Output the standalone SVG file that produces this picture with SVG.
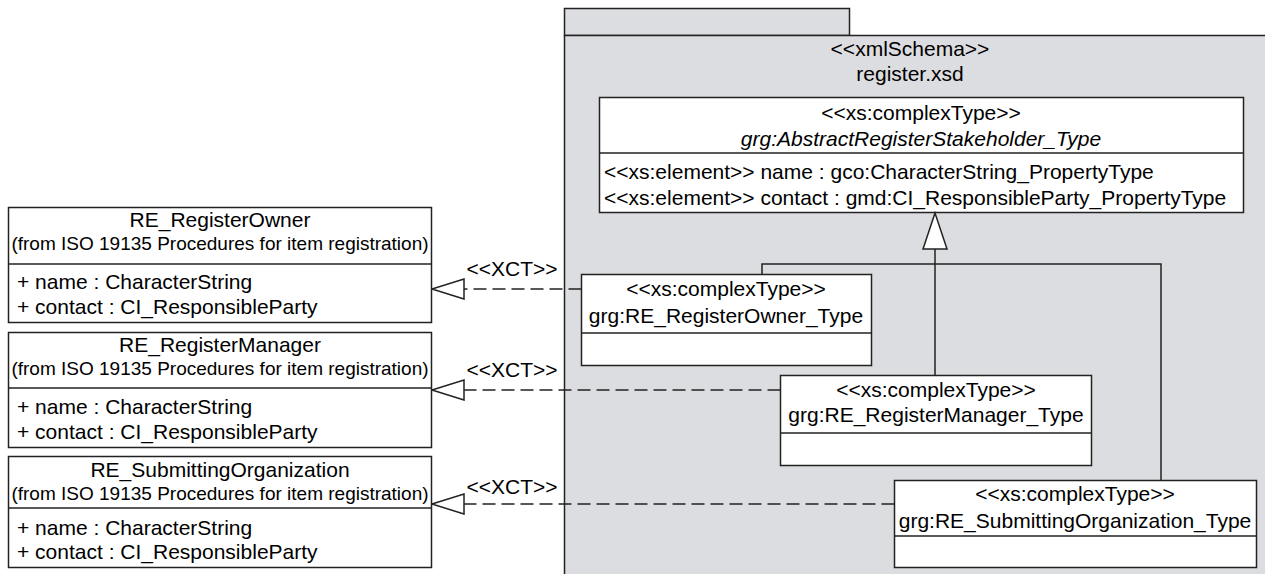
<svg xmlns="http://www.w3.org/2000/svg" width="1265" height="574" viewBox="0 0 1265 574">
<style>
text{font-family:"Liberation Sans",Arial,sans-serif;font-size:21px;fill:#000}
.c{text-anchor:middle}
.sm{font-size:19px}
.it{font-style:italic}
.box{fill:#fff;stroke:#222;stroke-width:1.5}
.ln{stroke:#222;stroke-width:1.5;fill:none}
.pkg{fill:#dcdde0;stroke:#222;stroke-width:1.5}
.dash{stroke:#222;stroke-width:1.5;fill:none;stroke-dasharray:13 6}
</style>
<defs>
<marker id="hollow" viewBox="0 0 34 22" refX="33" refY="11" markerWidth="34" markerHeight="22" markerUnits="userSpaceOnUse" orient="auto">
<path d="M1,1 L33,11 L1,21 Z" fill="#fff" stroke="#222" stroke-width="1.5"/>
</marker>
</defs>
<g id="package">
<rect class="pkg" x="564.5" y="8.5" width="285" height="27"/>
<rect class="pkg" x="564.5" y="35.5" width="730" height="560"/>
<text class="c" x="910" y="56">&lt;&lt;xmlSchema&gt;&gt;</text>
<text class="c" x="910" y="81">register.xsd</text>
</g>
<g id="abstract">
<rect class="box" x="599.5" y="97.5" width="644" height="115"/>
<line class="ln" x1="599.5" y1="153" x2="1243.5" y2="153"/>
<text class="c" x="921" y="120">&lt;&lt;xs:complexType&gt;&gt;</text>
<text class="c it" x="921" y="146">grg:AbstractRegisterStakeholder_Type</text>
<text x="604" y="179">&lt;&lt;xs:element&gt;&gt; name : gco:CharacterString_PropertyType</text>
<text x="604" y="205">&lt;&lt;xs:element&gt;&gt; contact : gmd:CI_ResponsibleParty_PropertyType</text>
</g>
<g id="owner-type">
<rect class="box" x="581.5" y="274.5" width="290" height="91"/>
<line class="ln" x1="581.5" y1="333" x2="871.5" y2="333"/>
<text class="c" x="726" y="296">&lt;&lt;xs:complexType&gt;&gt;</text>
<text class="c" x="726" y="323">grg:RE_RegisterOwner_Type</text>
</g>
<g id="manager-type">
<rect class="box" x="780.5" y="375.5" width="311" height="90"/>
<line class="ln" x1="780.5" y1="433" x2="1091.5" y2="433"/>
<text class="c" x="936" y="397">&lt;&lt;xs:complexType&gt;&gt;</text>
<text class="c" x="936" y="422">grg:RE_RegisterManager_Type</text>
</g>
<g id="submitting-type">
<rect class="box" x="894.5" y="480.5" width="362" height="87"/>
<line class="ln" x1="894.5" y1="536" x2="1256.5" y2="536"/>
<text class="c" x="1075" y="501">&lt;&lt;xs:complexType&gt;&gt;</text>
<text class="c" x="1075" y="528">grg:RE_SubmittingOrganization_Type</text>
</g>
<g id="re-owner">
<rect class="box" x="8.5" y="207.5" width="423" height="115"/>
<line class="ln" x1="8.5" y1="264" x2="431.5" y2="264"/>
<text class="c" x="220" y="227">RE_RegisterOwner</text>
<text class="c sm" x="220" y="250">(from ISO 19135 Procedures for item registration)</text>
<text x="17" y="289">+ name : CharacterString</text>
<text x="17" y="314">+ contact : CI_ResponsibleParty</text>
</g>
<g id="re-manager">
<rect class="box" x="8.5" y="332.5" width="423" height="115"/>
<line class="ln" x1="8.5" y1="388" x2="431.5" y2="388"/>
<text class="c" x="220" y="352">RE_RegisterManager</text>
<text class="c sm" x="220" y="375">(from ISO 19135 Procedures for item registration)</text>
<text x="17" y="414">+ name : CharacterString</text>
<text x="17" y="439">+ contact : CI_ResponsibleParty</text>
</g>
<g id="re-submitting">
<rect class="box" x="8.5" y="456.5" width="423" height="111"/>
<line class="ln" x1="8.5" y1="508" x2="431.5" y2="508"/>
<text class="c" x="220" y="477">RE_SubmittingOrganization</text>
<text class="c sm" x="220" y="500">(from ISO 19135 Procedures for item registration)</text>
<text x="17" y="535">+ name : CharacterString</text>
<text x="17" y="559">+ contact : CI_ResponsibleParty</text>
</g>
<g id="connectors">
<path class="ln" d="M935,249 V375.5"/>
<path d="M935,213 L923,249 L947,249 Z" fill="#fff" stroke="#222" stroke-width="1.5"/>
<path class="ln" d="M762,274.5 V264 H1161 V480.5"/>
<path class="dash" d="M581.5,289 H432" marker-end="url(#hollow)"/>
<path class="dash" d="M780.5,390 H432" marker-end="url(#hollow)"/>
<path class="dash" d="M894.5,504 H432" marker-end="url(#hollow)"/>
<text class="c" x="512" y="276">&lt;&lt;XCT&gt;&gt;</text>
<text class="c" x="512" y="377">&lt;&lt;XCT&gt;&gt;</text>
<text class="c" x="512" y="494">&lt;&lt;XCT&gt;&gt;</text>
</g>
</svg>
